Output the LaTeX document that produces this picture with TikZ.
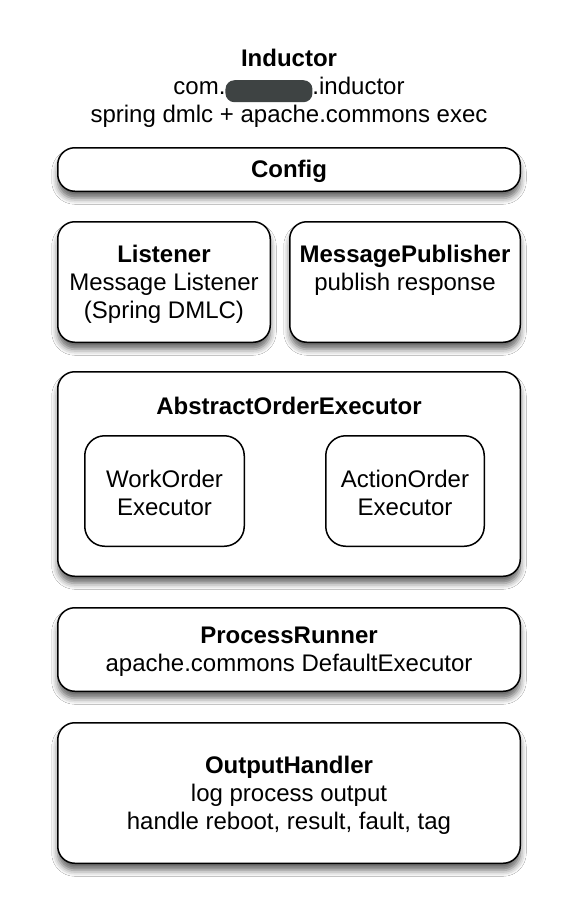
\documentclass[tikz,border=0pt]{standalone}
\usepackage{fontspec}
\setmainfont{Liberation Sans}
\usetikzlibrary{shadows.blur}
\definecolor{blobgray}{HTML}{3E4343}
\tikzset{
  txt/.style={align=center, inner sep=0pt, font=\fontsize{24}{28}\selectfont},
  outerbox/.style={draw=black, line width=1.5pt, rounded corners=17pt, fill=white,
    blur shadow={shadow xshift=0pt, shadow yshift=-7pt, shadow blur radius=6pt, shadow opacity=60},
    inner sep=0pt},
  innerbox/.style={draw=black, line width=1.5pt, rounded corners=20pt, fill=white, inner sep=0pt},
}
\begin{document}
\begin{tikzpicture}[x=1pt,y=-1pt]
\useasboundingbox (0,0) rectangle (586,910);
\fill[white] (0,0) rectangle (586,910);

\node[txt] (title) at (289,88) {\textbf{Inductor}\\com.\tikz[baseline=8pt]{\fill[blobgray,rounded corners=9pt] (0,0) rectangle (87pt,22pt);}.inductor\\spring dmlc + apache.commons exec};

\node[outerbox, minimum width=462.5pt, minimum height=43.5pt] (config) at (289,169.5) {};
\node[txt] (configtext) at (289,171.5) {\textbf{Config}};

\node[outerbox, minimum width=212.5pt, minimum height=120.5pt] (listener) at (164,282) {};
\node[txt] (listenertext) at (164,284) {\textbf{Listener}\\Message Listener\\(Spring DMLC)};

\node[outerbox, minimum width=230.5pt, minimum height=120.5pt] (publisher) at (405,282) {};
\node[txt] (publishertext) at (405,270) {\textbf{MessagePublisher}\\publish response};

\node[outerbox, minimum width=462.5pt, minimum height=204.5pt] (abstract) at (289,474) {};
\node[txt] (abstracttext) at (289,406) {\textbf{AbstractOrderExecutor}};

\node[innerbox, minimum width=159.5pt, minimum height=110.5pt] (workorder) at (164.5,491) {};
\node[txt] (workordertext) at (164.5,493) {WorkOrder\\Executor};
\node[innerbox, minimum width=158.5pt, minimum height=110.5pt] (actionorder) at (405,491) {};
\node[txt] (actionordertext) at (405,493) {ActionOrder\\Executor};

\node[outerbox, minimum width=462.5pt, minimum height=83.5pt] (runner) at (289,649.5) {};
\node[txt] (runnertext) at (289,651.5) {\textbf{ProcessRunner}\\apache.commons DefaultExecutor};

\node[outerbox, minimum width=462.5pt, minimum height=140.5pt] (output) at (289,793) {};
\node[txt] (outputtext) at (289,795) {\textbf{OutputHandler}\\log process output\\handle reboot, result, fault, tag};
\end{tikzpicture}
\end{document}
